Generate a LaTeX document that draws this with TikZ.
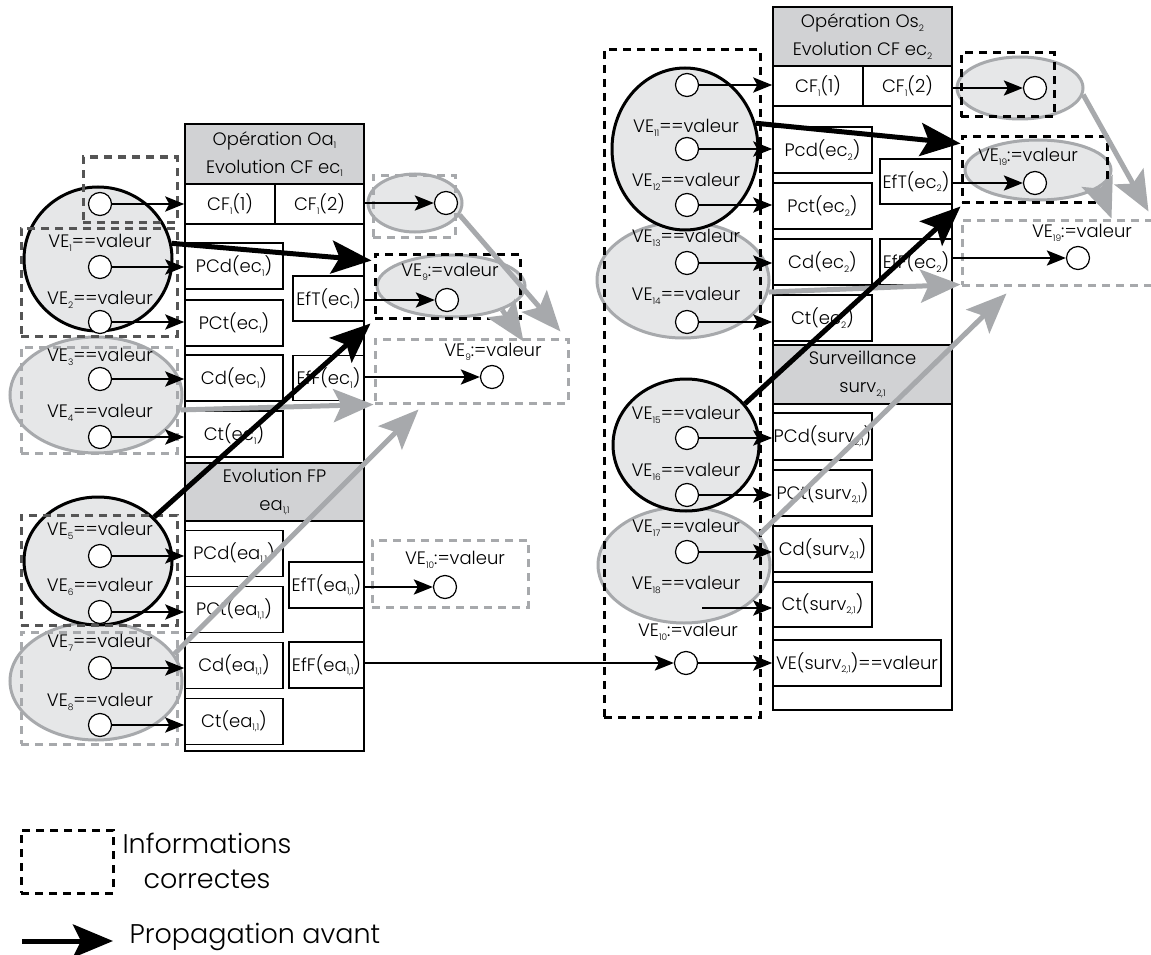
\documentclass[tikz,border=0pt]{standalone}
\usepackage{fontspec}
\setmainfont{Poppins}[UprightFont=*-Light]
\usetikzlibrary{shapes.geometric,arrows.meta}

\definecolor{hdrgray}{RGB}{209,210,212}
\definecolor{ellgray}{RGB}{230,231,232}
\definecolor{lightline}{RGB}{167,169,172}
\definecolor{darkline}{RGB}{85,85,85}

\newcommand{\idx}[1]{\raisebox{-0.35ex}{\fontsize{9}{9}\selectfont #1}}
\newcommand{\veq}[1]{VE\idx{#1}==valeur}
\newcommand{\vset}[1]{VE\idx{#1}:=valeur}

\tikzset{
  txt/.style={font=\fontsize{18}{28}\selectfont},
  cell/.style={txt, draw, line width=1.5pt, inner sep=0pt, minimum width=98pt, minimum height=46pt},
  hdr/.style={cell, fill=hdrgray, align=center, minimum width=179pt, minimum height=59pt},
  dot/.style={circle, draw, fill=white, line width=1.2pt, minimum size=23pt, inner sep=0pt},
  blackell/.style={ellipse, draw=black, fill=ellgray, line width=3pt, inner sep=0pt},
  grayell/.style={ellipse, draw=lightline, fill=ellgray, line width=3pt, inner sep=0pt},
  okbox/.style={draw=black, line width=3pt, dash pattern=on 8pt off 6pt, inner sep=0pt},
  dkbox/.style={okbox, draw=darkline},
  ltbox/.style={okbox, draw=lightline},
  sarr/.style={-{Stealth[length=19pt,width=15pt,inset=4pt]}, line width=2.8pt},
  fwd/.style={-{Stealth[length=40pt,width=33pt,inset=8pt]}, line width=5pt},
  bwd/.style={fwd, color=lightline},
}

\begin{document}
\begin{tikzpicture}[x=1pt,y=-1pt]
\useasboundingbox (0,0) rectangle (1151,955);
\fill[white] (0,0) rectangle (1151,955);

% colonne Oa1 / ea11
\draw[line width=1.5pt] (185,124) rectangle (364,751);
\node[hdr, minimum height=60pt] (oa) at (274.5,154) {Opération Oa\idx{1}\\Evolution CF ec\idx{1}};
\node[cell, minimum width=90pt, minimum height=40pt] (cfa) at (230,204) {CF\idx{1}(1)};
\node[cell, minimum width=89pt, minimum height=40pt] (cfb) at (319.5,204) {CF\idx{1}(2)};
\node[cell] (pcda) at (234,266) {PCd(ec\idx{1})};
\node[cell] (pcta) at (234,323) {PCt(ec\idx{1})};
\node[cell] (cda) at (234,378) {Cd(ec\idx{1})};
\node[cell] (cta) at (234,434) {Ct(ec\idx{1})};
\node[cell, minimum width=71pt, minimum height=45pt] (efta) at (328.5,298.5) {EfT(ec\idx{1})};
\node[cell, minimum width=71pt, minimum height=45pt] (effa) at (328.5,378) {EfF(ec\idx{1})};
\node[hdr, minimum height=58pt] (fp) at (274.5,492) {Evolution FP\\ea\idx{1,1}};
\node[cell] (pcdb) at (234,553.5) {PCd(ea\idx{1,1})};
\node[cell] (pctb) at (234,609.5) {PCt(ea\idx{1,1})};
\node[cell] (cdb) at (234,665.5) {Cd(ea\idx{1,1})};
\node[cell] (ctb) at (234,721.5) {Ct(ea\idx{1,1})};
\node[cell, minimum width=75pt] (eftb) at (326.5,585) {EfT(ea\idx{1,1})};
\node[cell, minimum width=75pt] (effb) at (326.5,665) {EfF(ea\idx{1,1})};

% colonne Os2 / surv21
\draw[line width=1.5pt] (773,7) rectangle (952,710);
\node[hdr] (os) at (862.5,36.5) {Opération Os\idx{2}\\Evolution CF ec\idx{2}};
\node[cell, minimum width=90pt, minimum height=40pt] (cfc) at (818,86) {CF\idx{1}(1)};
\node[cell, minimum width=89pt, minimum height=40pt] (cfd) at (907.5,86) {CF\idx{1}(2)};
\node[cell, minimum width=99pt] (pcdc) at (822.5,150) {Pcd(ec\idx{2})};
\node[cell, minimum width=99pt] (pctc) at (822.5,206) {Pct(ec\idx{2})};
\node[cell, minimum width=99pt] (cdc) at (822.5,262) {Cd(ec\idx{2})};
\node[cell, minimum width=99pt] (ctc) at (822.5,318) {Ct(ec\idx{2})};
\node[cell, minimum width=72pt, minimum height=45pt] (eftc) at (916,181.5) {EfT(ec\idx{2})};
\node[cell, minimum width=72pt] (effc) at (916,262) {EfF(ec\idx{2})};
\node[hdr] (sv) at (862.5,374.5) {Surveillance\\surv\idx{2,1}};
\node[cell, minimum width=99pt, minimum height=47pt] (pcdd) at (822.5,436.5) {PCd(surv\idx{2,1})};
\node[cell, minimum width=99pt] (pctd) at (822.5,493) {PCt(surv\idx{2,1})};
\node[cell, minimum width=99pt] (cdd) at (822.5,549) {Cd(surv\idx{2,1})};
\node[cell, minimum width=99pt, minimum height=45pt] (ctd) at (822.5,604.5) {Ct(surv\idx{2,1})};
\node[cell, minimum width=168pt] (ved) at (857,663) {VE(surv\idx{2,1})==valeur};

% ensembles de variables
\node[grayell, minimum width=172pt, minimum height=116pt] (eb) at (96,395) {};
\node[grayell, minimum width=172pt, minimum height=118pt] (ed) at (96,681) {};
\node[grayell, minimum width=94pt, minimum height=58pt] (ee) at (415,203) {};
\node[grayell, minimum width=148pt, minimum height=62pt] (ef) at (451,286) {};
\node[grayell, minimum width=172pt, minimum height=116pt] (eh) at (683,280) {};
\node[grayell, minimum width=172pt, minimum height=116pt] (ej) at (684,565) {};
\node[grayell, minimum width=126pt, minimum height=62pt] (ek) at (1020,88) {};
\node[grayell, minimum width=146pt, minimum height=60pt] (el) at (1038,170) {};
\node[blackell, minimum width=148pt, minimum height=144pt] (ea) at (98,259) {};
\node[blackell, minimum width=148pt, minimum height=128pt] (ec) at (98,561) {};
\node[blackell, minimum width=146pt, minimum height=162pt] (eg) at (685,149) {};
\node[blackell, minimum width=146pt, minimum height=132pt] (ei) at (686,445) {};

% informations correctes
\node[dkbox, minimum width=94pt, minimum height=65pt] (ka) at (130,189.5) {};
\node[dkbox, minimum width=156pt, minimum height=108pt] (kb) at (99,282) {};
\node[ltbox, minimum width=156pt, minimum height=106pt] (kc) at (99,400) {};
\node[dkbox, minimum width=156pt, minimum height=110pt] (kd) at (99,570) {};
\node[ltbox, minimum width=156pt, minimum height=112pt] (ke) at (99,688) {};
\node[ltbox, minimum width=82pt, minimum height=62pt] (kf) at (414,206) {};
\node[okbox, minimum width=145pt, minimum height=64pt] (kg) at (447.5,286) {};
\node[ltbox, minimum width=193pt, minimum height=64pt] (kh) at (471.5,371) {};
\node[ltbox, minimum width=156pt, minimum height=67pt] (ki) at (450,573.5) {};
\node[okbox, minimum width=156pt, minimum height=667pt] (kj) at (682,383.5) {};
\node[okbox, minimum width=93pt, minimum height=64pt] (kk) at (1007.5,85) {};
\node[okbox, minimum width=145pt, minimum height=65pt] (kl) at (1034.5,169.5) {};
\node[ltbox, minimum width=203pt, minimum height=65pt] (km) at (1063.5,252.5) {};

% etiquettes
\node[txt] (la) at (100,243) {\veq{1}};
\node[txt] (lb) at (100,300) {\veq{2}};
\node[txt] (lc) at (100,357) {\veq{3}};
\node[txt] (ld) at (100,413) {\veq{4}};
\node[txt] (le) at (100,531) {\veq{5}};
\node[txt] (lf) at (100,587) {\veq{6}};
\node[txt] (lg) at (100,643) {\veq{7}};
\node[txt] (lh) at (100,702) {\veq{8}};
\node[txt] (li) at (450,272) {\vset{9}};
\node[txt] (lj) at (493,352) {\vset{9}};
\node[txt] (lk) at (455,560) {\vset{10}};
\node[txt] (ll) at (686,128) {\veq{11}};
\node[txt] (lm) at (686,182) {\veq{12}};
\node[txt] (ln) at (686,238) {\veq{13}};
\node[txt] (lo) at (686,296) {\veq{14}};
\node[txt] (lp) at (686,415) {\veq{15}};
\node[txt] (lq) at (686,472) {\veq{16}};
\node[txt] (lr) at (686,528) {\veq{17}};
\node[txt] (ls) at (686,585) {\veq{18}};
\node[txt] (lt) at (688,632) {\vset{10}};
\node[txt] (lu) at (1028,157) {\vset{19}};
\node[txt] (lv) at (1082,233) {\vset{19}};

% valeurs
\node[dot] (da) at (100,204) {};
\node[dot] (db) at (100,267) {};
\node[dot] (dc) at (100,322) {};
\node[dot] (dd) at (100,379) {};
\node[dot] (de) at (100,437) {};
\node[dot] (df) at (100,556) {};
\node[dot] (dg) at (100,612) {};
\node[dot] (dh) at (100,668) {};
\node[dot] (di) at (100,725) {};
\node[dot] (dj) at (446,203) {};
\node[dot] (dk) at (447,300) {};
\node[dot] (dl) at (492,377) {};
\node[dot] (dm) at (445,587) {};
\node[dot] (dn) at (687,85) {};
\node[dot] (do) at (687,149) {};
\node[dot] (dp) at (687,205) {};
\node[dot] (dq) at (687,263) {};
\node[dot] (dr) at (687,322) {};
\node[dot] (ds) at (687,438) {};
\node[dot] (dt) at (687,495) {};
\node[dot] (du) at (687,552) {};
\node[dot] (dv) at (686,663) {};
\node[dot] (dw) at (1035,88) {};
\node[dot] (dx) at (1035,183) {};
\node[dot] (dy) at (1078,258) {};
\coordinate (nv) at (702,608);

% liens
\draw[sarr] (da) -- (da -| cfa.west);
\draw[sarr] (db) -- (db -| pcda.west);
\draw[sarr] (dc) -- (dc -| pcta.west);
\draw[sarr] (dd) -- (dd -| cda.west);
\draw[sarr] (de) -- (de -| cta.west);
\draw[sarr] (df) -- (df -| pcdb.west);
\draw[sarr] (dg) -- (dg -| pctb.west);
\draw[sarr] (dh) -- (dh -| cdb.west);
\draw[sarr] (di) -- (di -| ctb.west);
\draw[sarr] (cfb.east |- dj) -- (dj);
\draw[sarr] (efta.east |- dk) -- (dk);
\draw[sarr] (effa.east |- dl) -- (dl);
\draw[sarr] (eftb.east |- dm) -- (dm);
\draw[sarr] (effb.east |- dv) -- (dv);
\draw[sarr] (dn) -- (dn -| cfc.west);
\draw[sarr] (do) -- (do -| pcdc.west);
\draw[sarr] (dp) -- (dp -| pctc.west);
\draw[sarr] (dq) -- (dq -| cdc.west);
\draw[sarr] (dr) -- (dr -| ctc.west);
\draw[sarr] (ds) -- (ds -| pcdd.west);
\draw[sarr] (dt) -- (dt -| pctd.west);
\draw[sarr] (du) -- (du -| cdd.west);
\draw[sarr] (nv) -- (nv -| ctd.west);
\draw[sarr] (dv) -- (dv -| ved.west);
\draw[sarr] (cfd.east |- dw) -- (dw);
\draw[sarr] (eftc.east |- dx) -- (dx);
\draw[sarr] (effc.east |- dy) -- (dy);

% propagation
\draw[bwd] (eb.-10) -- (kh.south west);
\draw[bwd] (ed.19) -- ([xshift=45pt,yshift=-5pt]kh.south west);
\draw[bwd] (ee.-15) -- ([xshift=187pt,yshift=6pt]kh.north west);
\draw[bwd] (ef.-25) -- ([xshift=150pt,yshift=-4pt]kh.north west);
\draw[bwd] (eh.-8) -- ([yshift=2pt]km.south west);
\draw[bwd] (ej.22) -- ([xshift=46pt,yshift=-7pt]km.south west);
\draw[bwd] (ek.-6) -- ([xshift=188pt,yshift=7pt]km.north west);
\draw[bwd] (el.-16) -- ([xshift=151pt]km.north west);
\draw[fwd] (ea.12) -- ([xshift=-2pt,yshift=-8pt]kg.north west);
\draw[fwd] (ec.38) -- ([xshift=-3pt,yshift=-4pt]kg.south west);
\draw[fwd] (eg.20) -- ([yshift=-8pt]kl.north west);
\draw[fwd] (ei.35) -- ([yshift=-3pt]kl.south west);

% legende
\node[okbox, minimum width=92pt, minimum height=63pt] (lgbox) at (67,861.5) {};
\node[font=\fontsize{27}{35}\selectfont, align=center] (lgok) at (207,861) {Informations\\correctes};
\coordinate (lga) at (22,941);
\coordinate (lgb) at (113,941);
\node[font=\fontsize{27}{35}\selectfont, anchor=west] (lgfw) at (126,937) {Propagation avant};
\draw[fwd] (lga) -- (lgb);
\end{tikzpicture}
\end{document}
